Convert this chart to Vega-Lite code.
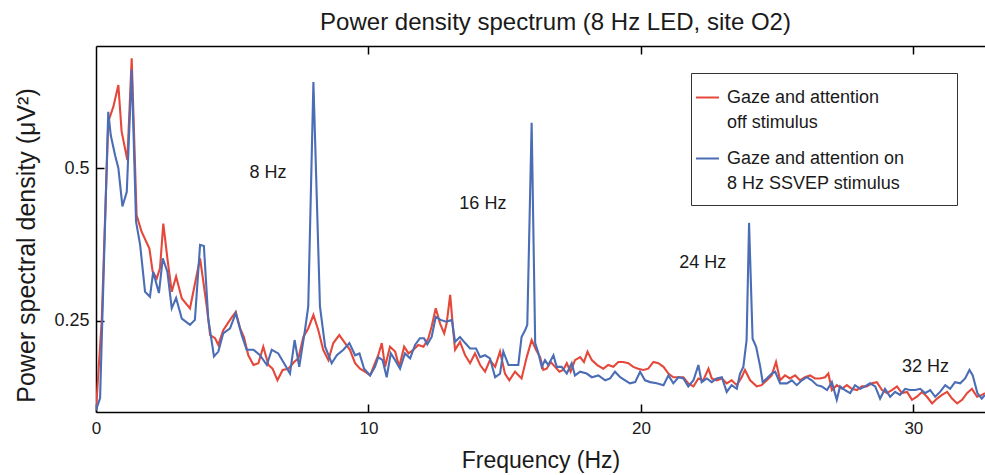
{
  "$schema": "https://vega.github.io/schema/vega-lite/v6.json",
  "width": 889,
  "height": 366,
  "autosize": {"type": "none"},
  "padding": {"left": 96, "top": 46, "right": 0, "bottom": 63},
  "background": "white",
  "title": {"text": "Power density spectrum (8 Hz LED, site O2)", "font": "Liberation Sans", "fontSize": 24, "fontWeight": "normal", "color": "#1a1a1a", "anchor": "middle", "dx": 15, "offset": 10},
  "datasets": {
    "spectra": [
      {"cond":"off","freq":0,"psd":0.103},{"cond":"off","freq":0.21,"psd":0.25},{"cond":"off","freq":0.45,"psd":0.576},{"cond":"off","freq":0.64,"psd":0.601},{"cond":"off","freq":0.82,"psd":0.636},{"cond":"off","freq":0.94,"psd":0.56},{"cond":"off","freq":1.15,"psd":0.513},{"cond":"off","freq":1.31,"psd":0.68},{"cond":"off","freq":1.49,"psd":0.423},{"cond":"off","freq":1.67,"psd":0.396},{"cond":"off","freq":1.96,"psd":0.368},{"cond":"off","freq":2.08,"psd":0.33},{"cond":"off","freq":2.23,"psd":0.319},{"cond":"off","freq":2.35,"psd":0.336},{"cond":"off","freq":2.47,"psd":0.409},{"cond":"off","freq":2.62,"psd":0.352},{"cond":"off","freq":2.78,"psd":0.297},{"cond":"off","freq":2.94,"psd":0.322},{"cond":"off","freq":3.15,"psd":0.286},{"cond":"off","freq":3.45,"psd":0.27},{"cond":"off","freq":3.82,"psd":0.352},{"cond":"off","freq":4.06,"psd":0.275},{"cond":"off","freq":4.19,"psd":0.226},{"cond":"off","freq":4.37,"psd":0.221},{"cond":"off","freq":4.49,"psd":0.21},{"cond":"off","freq":4.67,"psd":0.234},{"cond":"off","freq":4.92,"psd":0.251},{"cond":"off","freq":5.13,"psd":0.264},{"cond":"off","freq":5.29,"psd":0.237},{"cond":"off","freq":5.43,"psd":0.223},{"cond":"off","freq":5.59,"psd":0.193},{"cond":"off","freq":5.78,"psd":0.177},{"cond":"off","freq":5.96,"psd":0.18},{"cond":"off","freq":6.14,"psd":0.207},{"cond":"off","freq":6.33,"psd":0.177},{"cond":"off","freq":6.48,"psd":0.171},{"cond":"off","freq":6.66,"psd":0.152},{"cond":"off","freq":6.85,"psd":0.169},{"cond":"off","freq":7.06,"psd":0.171},{"cond":"off","freq":7.27,"psd":0.182},{"cond":"off","freq":7.43,"psd":0.188},{"cond":"off","freq":7.61,"psd":0.223},{"cond":"off","freq":7.79,"psd":0.237},{"cond":"off","freq":7.98,"psd":0.259},{"cond":"off","freq":8.16,"psd":0.234},{"cond":"off","freq":8.34,"psd":0.202},{"cond":"off","freq":8.53,"psd":0.185},{"cond":"off","freq":8.71,"psd":0.213},{"cond":"off","freq":8.93,"psd":0.226},{"cond":"off","freq":9.14,"psd":0.213},{"cond":"off","freq":9.32,"psd":0.202},{"cond":"off","freq":9.51,"psd":0.18},{"cond":"off","freq":9.69,"psd":0.171},{"cond":"off","freq":9.88,"psd":0.166},{"cond":"off","freq":10.06,"psd":0.16},{"cond":"off","freq":10.24,"psd":0.18},{"cond":"off","freq":10.36,"psd":0.193},{"cond":"off","freq":10.49,"psd":0.213},{"cond":"off","freq":10.61,"psd":0.174},{"cond":"off","freq":10.79,"psd":0.207},{"cond":"off","freq":10.98,"psd":0.199},{"cond":"off","freq":11.13,"psd":0.174},{"cond":"off","freq":11.31,"psd":0.207},{"cond":"off","freq":11.47,"psd":0.196},{"cond":"off","freq":11.65,"psd":0.202},{"cond":"off","freq":11.83,"psd":0.21},{"cond":"off","freq":12.02,"psd":0.207},{"cond":"off","freq":12.2,"psd":0.221},{"cond":"off","freq":12.32,"psd":0.24},{"cond":"off","freq":12.47,"psd":0.27},{"cond":"off","freq":12.63,"psd":0.245},{"cond":"off","freq":12.78,"psd":0.229},{"cond":"off","freq":12.87,"psd":0.245},{"cond":"off","freq":13.0,"psd":0.292},{"cond":"off","freq":13.12,"psd":0.229},{"cond":"off","freq":13.18,"psd":0.202},{"cond":"off","freq":13.36,"psd":0.215},{"cond":"off","freq":13.55,"psd":0.193},{"cond":"off","freq":13.73,"psd":0.18},{"cond":"off","freq":13.91,"psd":0.196},{"cond":"off","freq":14.1,"psd":0.177},{"cond":"off","freq":14.28,"psd":0.166},{"cond":"off","freq":14.46,"psd":0.185},{"cond":"off","freq":14.65,"psd":0.174},{"cond":"off","freq":14.83,"psd":0.199},{"cond":"off","freq":15.01,"psd":0.163},{"cond":"off","freq":15.17,"psd":0.152},{"cond":"off","freq":15.38,"psd":0.166},{"cond":"off","freq":15.62,"psd":0.155},{"cond":"off","freq":15.81,"psd":0.19},{"cond":"off","freq":15.99,"psd":0.218},{"cond":"off","freq":16.15,"psd":0.202},{"cond":"off","freq":16.3,"psd":0.19},{"cond":"off","freq":16.42,"psd":0.169},{"cond":"off","freq":16.54,"psd":0.171},{"cond":"off","freq":16.69,"psd":0.182},{"cond":"off","freq":16.85,"psd":0.174},{"cond":"off","freq":17.01,"psd":0.166},{"cond":"off","freq":17.15,"psd":0.169},{"cond":"off","freq":17.28,"psd":0.18},{"cond":"off","freq":17.42,"psd":0.166},{"cond":"off","freq":17.58,"psd":0.185},{"cond":"off","freq":17.77,"psd":0.19},{"cond":"off","freq":17.91,"psd":0.182},{"cond":"off","freq":18.04,"psd":0.199},{"cond":"off","freq":18.2,"psd":0.185},{"cond":"off","freq":18.4,"psd":0.177},{"cond":"off","freq":18.62,"psd":0.171},{"cond":"off","freq":18.8,"psd":0.177},{"cond":"off","freq":18.99,"psd":0.174},{"cond":"off","freq":19.17,"psd":0.182},{"cond":"off","freq":19.35,"psd":0.182},{"cond":"off","freq":19.54,"psd":0.18},{"cond":"off","freq":19.72,"psd":0.174},{"cond":"off","freq":19.9,"psd":0.171},{"cond":"off","freq":20.09,"psd":0.169},{"cond":"off","freq":20.27,"psd":0.171},{"cond":"off","freq":20.46,"psd":0.182},{"cond":"off","freq":20.64,"psd":0.18},{"cond":"off","freq":20.83,"psd":0.174},{"cond":"off","freq":21.01,"psd":0.163},{"cond":"off","freq":21.19,"psd":0.157},{"cond":"off","freq":21.38,"psd":0.157},{"cond":"off","freq":21.56,"psd":0.157},{"cond":"off","freq":21.74,"psd":0.147},{"cond":"off","freq":21.93,"psd":0.142},{"cond":"off","freq":22.11,"psd":0.155},{"cond":"off","freq":22.29,"psd":0.152},{"cond":"off","freq":22.48,"psd":0.171},{"cond":"off","freq":22.6,"psd":0.155},{"cond":"off","freq":22.78,"psd":0.152},{"cond":"off","freq":22.97,"psd":0.155},{"cond":"off","freq":23.15,"psd":0.147},{"cond":"off","freq":23.33,"psd":0.152},{"cond":"off","freq":23.52,"psd":0.144},{"cond":"off","freq":23.7,"psd":0.157},{"cond":"off","freq":23.82,"psd":0.169},{"cond":"off","freq":24.01,"psd":0.152},{"cond":"off","freq":24.25,"psd":0.142},{"cond":"off","freq":24.43,"psd":0.144},{"cond":"off","freq":24.62,"psd":0.152},{"cond":"off","freq":24.8,"psd":0.16},{"cond":"off","freq":24.96,"psd":0.182},{"cond":"off","freq":25.11,"psd":0.152},{"cond":"off","freq":25.29,"psd":0.16},{"cond":"off","freq":25.47,"psd":0.155},{"cond":"off","freq":25.66,"psd":0.16},{"cond":"off","freq":25.84,"psd":0.152},{"cond":"off","freq":26.02,"psd":0.157},{"cond":"off","freq":26.21,"psd":0.16},{"cond":"off","freq":26.39,"psd":0.155},{"cond":"off","freq":26.57,"psd":0.155},{"cond":"off","freq":26.76,"psd":0.157},{"cond":"off","freq":26.88,"psd":0.163},{"cond":"off","freq":27.01,"psd":0.136},{"cond":"off","freq":27.19,"psd":0.144},{"cond":"off","freq":27.38,"psd":0.138},{"cond":"off","freq":27.56,"psd":0.144},{"cond":"off","freq":27.74,"psd":0.138},{"cond":"off","freq":27.93,"psd":0.136},{"cond":"off","freq":28.11,"psd":0.142},{"cond":"off","freq":28.29,"psd":0.142},{"cond":"off","freq":28.48,"psd":0.147},{"cond":"off","freq":28.66,"psd":0.149},{"cond":"off","freq":28.85,"psd":0.136},{"cond":"off","freq":29.03,"psd":0.131},{"cond":"off","freq":29.21,"psd":0.136},{"cond":"off","freq":29.4,"psd":0.142},{"cond":"off","freq":29.58,"psd":0.131},{"cond":"off","freq":29.77,"psd":0.133},{"cond":"off","freq":29.95,"psd":0.12},{"cond":"off","freq":30.13,"psd":0.125},{"cond":"off","freq":30.32,"psd":0.133},{"cond":"off","freq":30.5,"psd":0.125},{"cond":"off","freq":30.69,"psd":0.114},{"cond":"off","freq":30.87,"psd":0.122},{"cond":"off","freq":31.05,"psd":0.128},{"cond":"off","freq":31.24,"psd":0.133},{"cond":"off","freq":31.42,"psd":0.122},{"cond":"off","freq":31.61,"psd":0.114},{"cond":"off","freq":31.79,"psd":0.12},{"cond":"off","freq":31.97,"psd":0.131},{"cond":"off","freq":32.15,"psd":0.138},{"cond":"off","freq":32.34,"psd":0.125},{"cond":"off","freq":32.52,"psd":0.128},{"cond":"off","freq":32.63,"psd":0.131},
      {"cond":"on","freq":0,"psd":0.103},{"cond":"on","freq":0.15,"psd":0.123},{"cond":"on","freq":0.45,"psd":0.592},{"cond":"on","freq":0.54,"psd":0.554},{"cond":"on","freq":0.7,"psd":0.521},{"cond":"on","freq":0.82,"psd":0.5},{"cond":"on","freq":0.97,"psd":0.437},{"cond":"on","freq":1.13,"psd":0.461},{"cond":"on","freq":1.31,"psd":0.661},{"cond":"on","freq":1.47,"psd":0.412},{"cond":"on","freq":1.62,"psd":0.374},{"cond":"on","freq":1.8,"psd":0.297},{"cond":"on","freq":1.98,"psd":0.289},{"cond":"on","freq":2.1,"psd":0.33},{"cond":"on","freq":2.23,"psd":0.308},{"cond":"on","freq":2.31,"psd":0.295},{"cond":"on","freq":2.45,"psd":0.352},{"cond":"on","freq":2.62,"psd":0.33},{"cond":"on","freq":2.78,"psd":0.27},{"cond":"on","freq":2.94,"psd":0.287},{"cond":"on","freq":3.15,"psd":0.253},{"cond":"on","freq":3.45,"psd":0.243},{"cond":"on","freq":3.63,"psd":0.251},{"cond":"on","freq":3.82,"psd":0.374},{"cond":"on","freq":3.96,"psd":0.372},{"cond":"on","freq":4.12,"psd":0.253},{"cond":"on","freq":4.33,"psd":0.191},{"cond":"on","freq":4.49,"psd":0.199},{"cond":"on","freq":4.67,"psd":0.229},{"cond":"on","freq":4.92,"psd":0.237},{"cond":"on","freq":5.13,"psd":0.262},{"cond":"on","freq":5.35,"psd":0.226},{"cond":"on","freq":5.53,"psd":0.202},{"cond":"on","freq":5.78,"psd":0.202},{"cond":"on","freq":6.02,"psd":0.193},{"cond":"on","freq":6.27,"psd":0.177},{"cond":"on","freq":6.45,"psd":0.202},{"cond":"on","freq":6.69,"psd":0.196},{"cond":"on","freq":6.94,"psd":0.177},{"cond":"on","freq":7.12,"psd":0.163},{"cond":"on","freq":7.29,"psd":0.218},{"cond":"on","freq":7.46,"psd":0.174},{"cond":"on","freq":7.67,"psd":0.234},{"cond":"on","freq":7.79,"psd":0.273},{"cond":"on","freq":7.98,"psd":0.641},{"cond":"on","freq":8.22,"psd":0.273},{"cond":"on","freq":8.41,"psd":0.207},{"cond":"on","freq":8.65,"psd":0.18},{"cond":"on","freq":8.84,"psd":0.193},{"cond":"on","freq":9.08,"psd":0.202},{"cond":"on","freq":9.3,"psd":0.213},{"cond":"on","freq":9.51,"psd":0.193},{"cond":"on","freq":9.67,"psd":0.196},{"cond":"on","freq":9.84,"psd":0.171},{"cond":"on","freq":10.06,"psd":0.16},{"cond":"on","freq":10.24,"psd":0.174},{"cond":"on","freq":10.36,"psd":0.19},{"cond":"on","freq":10.52,"psd":0.185},{"cond":"on","freq":10.67,"psd":0.157},{"cond":"on","freq":10.82,"psd":0.196},{"cond":"on","freq":10.98,"psd":0.185},{"cond":"on","freq":11.16,"psd":0.171},{"cond":"on","freq":11.34,"psd":0.196},{"cond":"on","freq":11.53,"psd":0.188},{"cond":"on","freq":11.71,"psd":0.21},{"cond":"on","freq":11.89,"psd":0.221},{"cond":"on","freq":12.04,"psd":0.221},{"cond":"on","freq":12.16,"psd":0.211},{"cond":"on","freq":12.32,"psd":0.223},{"cond":"on","freq":12.47,"psd":0.256},{"cond":"on","freq":12.65,"psd":0.251},{"cond":"on","freq":12.85,"psd":0.248},{"cond":"on","freq":13.06,"psd":0.251},{"cond":"on","freq":13.18,"psd":0.215},{"cond":"on","freq":13.36,"psd":0.223},{"cond":"on","freq":13.55,"psd":0.213},{"cond":"on","freq":13.73,"psd":0.204},{"cond":"on","freq":13.95,"psd":0.204},{"cond":"on","freq":14.1,"psd":0.19},{"cond":"on","freq":14.28,"psd":0.193},{"cond":"on","freq":14.46,"psd":0.188},{"cond":"on","freq":14.65,"psd":0.157},{"cond":"on","freq":14.83,"psd":0.163},{"cond":"on","freq":14.95,"psd":0.199},{"cond":"on","freq":15.14,"psd":0.177},{"cond":"on","freq":15.5,"psd":0.177},{"cond":"on","freq":15.62,"psd":0.223},{"cond":"on","freq":15.75,"psd":0.234},{"cond":"on","freq":15.83,"psd":0.243},{"cond":"on","freq":15.99,"psd":0.574},{"cond":"on","freq":16.12,"psd":0.213},{"cond":"on","freq":16.24,"psd":0.196},{"cond":"on","freq":16.36,"psd":0.174},{"cond":"on","freq":16.48,"psd":0.185},{"cond":"on","freq":16.6,"psd":0.177},{"cond":"on","freq":16.79,"psd":0.193},{"cond":"on","freq":16.91,"psd":0.174},{"cond":"on","freq":17.09,"psd":0.174},{"cond":"on","freq":17.28,"psd":0.163},{"cond":"on","freq":17.46,"psd":0.18},{"cond":"on","freq":17.58,"psd":0.16},{"cond":"on","freq":17.77,"psd":0.166},{"cond":"on","freq":18.01,"psd":0.163},{"cond":"on","freq":18.2,"psd":0.157},{"cond":"on","freq":18.44,"psd":0.16},{"cond":"on","freq":18.69,"psd":0.152},{"cond":"on","freq":18.87,"psd":0.155},{"cond":"on","freq":19.05,"psd":0.166},{"cond":"on","freq":19.24,"psd":0.157},{"cond":"on","freq":19.42,"psd":0.152},{"cond":"on","freq":19.6,"psd":0.147},{"cond":"on","freq":19.79,"psd":0.149},{"cond":"on","freq":19.97,"psd":0.166},{"cond":"on","freq":20.15,"psd":0.152},{"cond":"on","freq":20.34,"psd":0.149},{"cond":"on","freq":20.58,"psd":0.147},{"cond":"on","freq":20.83,"psd":0.144},{"cond":"on","freq":21.01,"psd":0.16},{"cond":"on","freq":21.19,"psd":0.147},{"cond":"on","freq":21.38,"psd":0.157},{"cond":"on","freq":21.56,"psd":0.155},{"cond":"on","freq":21.74,"psd":0.142},{"cond":"on","freq":21.93,"psd":0.152},{"cond":"on","freq":22.11,"psd":0.177},{"cond":"on","freq":22.23,"psd":0.149},{"cond":"on","freq":22.42,"psd":0.155},{"cond":"on","freq":22.6,"psd":0.149},{"cond":"on","freq":22.78,"psd":0.155},{"cond":"on","freq":22.97,"psd":0.157},{"cond":"on","freq":23.15,"psd":0.133},{"cond":"on","freq":23.33,"psd":0.144},{"cond":"on","freq":23.52,"psd":0.138},{"cond":"on","freq":23.64,"psd":0.163},{"cond":"on","freq":23.76,"psd":0.174},{"cond":"on","freq":23.88,"psd":0.218},{"cond":"on","freq":23.97,"psd":0.41},{"cond":"on","freq":24.1,"psd":0.22},{"cond":"on","freq":24.23,"psd":0.207},{"cond":"on","freq":24.38,"psd":0.174},{"cond":"on","freq":24.47,"psd":0.149},{"cond":"on","freq":24.62,"psd":0.155},{"cond":"on","freq":24.8,"psd":0.163},{"cond":"on","freq":24.93,"psd":0.166},{"cond":"on","freq":25.11,"psd":0.147},{"cond":"on","freq":25.36,"psd":0.147},{"cond":"on","freq":25.54,"psd":0.152},{"cond":"on","freq":25.72,"psd":0.144},{"cond":"on","freq":25.91,"psd":0.152},{"cond":"on","freq":26.09,"psd":0.157},{"cond":"on","freq":26.27,"psd":0.152},{"cond":"on","freq":26.46,"psd":0.144},{"cond":"on","freq":26.64,"psd":0.142},{"cond":"on","freq":26.83,"psd":0.136},{"cond":"on","freq":27.01,"psd":0.149},{"cond":"on","freq":27.19,"psd":0.12},{"cond":"on","freq":27.31,"psd":0.142},{"cond":"on","freq":27.49,"psd":0.136},{"cond":"on","freq":27.68,"psd":0.131},{"cond":"on","freq":27.86,"psd":0.144},{"cond":"on","freq":28.05,"psd":0.138},{"cond":"on","freq":28.23,"psd":0.142},{"cond":"on","freq":28.41,"psd":0.147},{"cond":"on","freq":28.6,"psd":0.142},{"cond":"on","freq":28.78,"psd":0.122},{"cond":"on","freq":28.96,"psd":0.138},{"cond":"on","freq":29.15,"psd":0.125},{"cond":"on","freq":29.33,"psd":0.133},{"cond":"on","freq":29.51,"psd":0.128},{"cond":"on","freq":29.7,"psd":0.138},{"cond":"on","freq":29.88,"psd":0.136},{"cond":"on","freq":30.07,"psd":0.136},{"cond":"on","freq":30.25,"psd":0.138},{"cond":"on","freq":30.43,"psd":0.131},{"cond":"on","freq":30.62,"psd":0.136},{"cond":"on","freq":30.8,"psd":0.125},{"cond":"on","freq":30.98,"psd":0.133},{"cond":"on","freq":31.17,"psd":0.144},{"cond":"on","freq":31.35,"psd":0.138},{"cond":"on","freq":31.53,"psd":0.149},{"cond":"on","freq":31.72,"psd":0.147},{"cond":"on","freq":31.9,"psd":0.155},{"cond":"on","freq":32.06,"psd":0.169},{"cond":"on","freq":32.18,"psd":0.16},{"cond":"on","freq":32.35,"psd":0.131},{"cond":"on","freq":32.51,"psd":0.122},{"cond":"on","freq":32.63,"psd":0.128}
    ],
    "notes": [
      {"label": "8 Hz", "freq": 6.31, "psd": 0.491},
      {"label": "16 Hz", "freq": 14.2, "psd": 0.441},
      {"label": "24 Hz", "freq": 22.27, "psd": 0.344},
      {"label": "32 Hz", "freq": 30.45, "psd": 0.174}
    ]
  },
  "layer": [
    {
      "data": {"name": "spectra"},
      "mark": {"type": "line", "strokeWidth": 2.1, "clip": true},
      "encoding": {
        "x": {
          "field": "freq", "type": "quantitative",
          "scale": {"domain": [0, 32.63], "nice": false, "zero": false},
          "axis": {"orient": "bottom", "values": [0, 10, 20, 30], "title": "Frequency (Hz)", "labelFlush": false, "grid": false, "tickSize": -8, "labelPadding": 16, "domainColor": "#000", "domainWidth": 1.5, "tickColor": "#000", "tickWidth": 1.5, "labelFont": "Liberation Sans", "labelFontSize": 17, "labelColor": "#1a1a1a", "titleFont": "Liberation Sans", "titleFontSize": 23, "titleFontWeight": "normal", "titleColor": "#1a1a1a", "titlePadding": 13}
        },
        "y": {
          "field": "psd", "type": "quantitative",
          "scale": {"domain": [0.1, 0.7], "nice": false, "zero": false},
          "axis": {"values": [0.25, 0.5], "format": ".2~f", "title": "Power spectral density (μV²)", "grid": false, "tickSize": -8, "labelPadding": 15, "domainColor": "#000", "domainWidth": 1.5, "tickColor": "#000", "tickWidth": 1.5, "labelFont": "Liberation Sans", "labelFontSize": 18, "labelColor": "#1a1a1a", "titleFont": "Liberation Sans", "titleFontSize": 25, "titleFontWeight": "normal", "titleColor": "#1a1a1a", "titlePadding": 14, "titleY": 199}
        },
        "color": {
          "field": "cond", "type": "nominal",
          "scale": {"domain": ["off", "on"], "range": ["#e5483a", "#4a6db5"]},
          "legend": {"orient": "none", "legendX": 595, "legendY": 27, "title": ".", "titleOrient": "right", "titlePadding": 38, "titleFontSize": 10, "titleOpacity": 0, "fillColor": "white", "strokeColor": "#333", "padding": 12, "symbolType": "stroke", "symbolSize": 529, "symbolStrokeWidth": 2, "symbolOffset": -8, "labelFont": "Liberation Sans", "labelFontSize": 18, "labelColor": "#1a1a1a", "labelOffset": 7, "labelLimit": 400, "rowPadding": 14, "labelExpr": "datum.label == 'off' ? ['Gaze and attention', 'off stimulus'] : ['Gaze and attention on', '8 Hz SSVEP stimulus']"}
        }
      }
    },
    {
      "data": {"name": "notes"},
      "mark": {"type": "text", "font": "Liberation Sans", "fontSize": 18, "color": "#1a1a1a", "align": "center", "baseline": "middle"},
      "encoding": {
        "x": {"field": "freq", "type": "quantitative", "axis": {"orient": "top", "values": [10, 20, 30], "labels": false, "title": null, "grid": false, "tickSize": -8, "domainColor": "#000", "domainWidth": 1.5, "tickColor": "#000", "tickWidth": 1.5}},
        "y": {"field": "psd", "type": "quantitative"},
        "text": {"field": "label"}
      }
    }
  ],
  "resolve": {"axis": {"x": "independent"}},
  "config": {"view": {"stroke": null}, "style": {"guide-label": {"lineHeight": 25}}}
}
